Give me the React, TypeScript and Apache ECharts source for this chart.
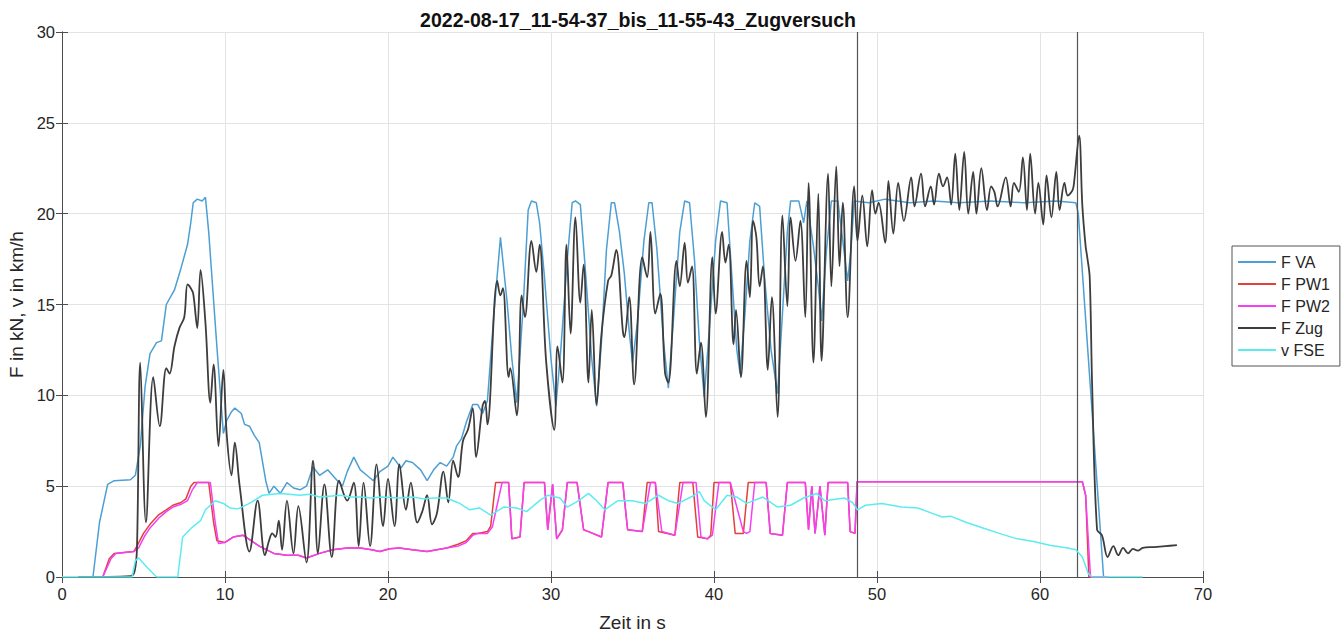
import React, { useEffect, useRef } from "react";
import * as echarts from "echarts";

const chartTitle = "2022-08-17_11-54-37_bis_11-55-43_Zugversuch";
const seriesNames = ["F VA", "F PW1", "F PW2", "F Zug", "v FSE"];
const xTicks = { min: 0, max: 70, interval: 10 };
const yTicks = { min: 0, max: 30, interval: 5 };
const markerTimes = [48.77, 62.3];

const fVA = [
  [1.0, 0], [1.9, 0], [2.3, 3.0], [2.8, 5.1], [3.2, 5.3], [4.2, 5.35], [4.5, 5.6], [4.8, 7.2], [5.1, 10.5], [5.4, 12.3],
  [5.8, 12.9], [6.1, 13.0], [6.4, 15.0], [6.9, 15.8], [7.3, 17.0], [7.7, 18.3], [7.9, 19.5], [8.05, 20.6], [8.3, 20.8],
  [8.6, 20.7], [8.8, 20.9], [9.0, 19.0], [9.5, 12.7], [9.9, 7.9], [10.1, 8.6], [10.4, 9.1], [10.6, 9.3], [11.0, 9.0],
  [11.2, 8.4], [11.5, 8.3], [11.8, 7.8], [12.1, 7.4], [12.5, 5.3], [12.7, 4.6], [13.0, 5.0], [13.4, 4.6], [13.8, 5.2],
  [14.2, 4.9], [14.6, 4.8], [15.0, 5.0], [15.4, 6.05], [15.8, 5.6], [16.3, 5.9], [16.8, 5.4], [17.2, 5.0], [17.5, 5.8],
  [17.9, 6.6], [18.3, 5.9], [18.7, 5.6], [19.1, 5.3], [19.5, 5.8], [20.0, 6.1], [20.3, 6.6], [20.8, 6.0], [21.1, 6.4],
  [21.5, 6.3], [22.0, 5.9], [22.4, 5.3], [22.8, 5.9], [23.2, 6.3], [23.6, 6.1], [24.0, 6.6], [24.2, 7.2], [24.5, 7.6],
  [24.8, 8.5], [25.0, 9.0], [25.2, 9.5], [25.5, 9.5], [25.8, 9.0], [26.1, 9.7], [26.5, 14.5], [26.9, 18.7], [27.3, 15.2],
  [27.6, 12.0], [27.9, 9.6], [28.3, 15.0], [28.6, 20.2], [28.8, 20.7], [29.1, 20.6], [29.3, 19.5], [29.6, 16.5],
  [30.0, 12.0], [30.3, 9.4], [30.6, 12.5], [31.0, 17.5], [31.3, 20.6], [31.5, 20.7], [31.8, 20.5], [32.1, 17.0],
  [32.5, 12.0], [32.8, 9.4], [33.1, 13.0], [33.4, 18.0], [33.7, 20.6], [33.9, 20.6], [34.2, 19.0], [34.5, 16.7],
  [34.8, 13.5], [35.0, 11.8], [35.3, 14.0], [35.7, 18.5], [36.0, 20.6], [36.2, 20.6], [36.5, 18.0], [36.9, 13.0],
  [37.2, 10.4], [37.5, 14.0], [37.9, 19.0], [38.2, 20.7], [38.5, 20.6], [38.8, 17.5], [39.1, 13.0], [39.4, 9.9],
  [39.7, 13.5], [40.1, 18.5], [40.4, 20.7], [40.8, 20.6], [41.1, 16.5], [41.4, 12.5], [41.6, 11.2], [41.9, 14.5],
  [42.2, 18.5], [42.5, 20.6], [42.8, 20.4], [43.1, 16.5], [43.5, 12.5], [43.9, 10.1], [44.2, 14.5], [44.5, 19.0],
  [44.7, 20.7], [45.2, 20.7], [45.5, 19.5], [45.7, 20.7], [46.1, 18.2], [46.4, 16.0], [46.6, 14.1], [46.9, 18.0],
  [47.2, 20.7], [47.6, 20.7], [47.9, 18.5], [48.2, 16.3], [48.4, 18.0], [48.6, 20.7], [49.5, 20.6], [50.5, 20.8],
  [52.0, 20.6], [53.5, 20.7], [55.0, 20.6], [57.0, 20.7], [59.0, 20.6], [61.0, 20.7], [62.2, 20.6], [62.35, 20.0],
  [63.9, 0], [64.2, 0],
];

const fPW1 = [
  [1.0, 0], [2.5, 0], [2.9, 1.0], [3.2, 1.3], [4.4, 1.4], [4.6, 1.7], [5.0, 2.4], [5.4, 2.9], [5.9, 3.4], [6.4, 3.7],
  [6.8, 3.95], [7.3, 4.1], [7.6, 4.3], [7.9, 5.0], [8.1, 5.2], [9.0, 5.2], [9.3, 3.0], [9.5, 2.0], [10.0, 1.9],
  [10.5, 2.2], [11.1, 2.3], [11.6, 2.0], [12.1, 1.7], [13.0, 1.3], [13.8, 1.2], [14.5, 1.2], [15.0, 1.05], [15.8, 1.3],
  [16.6, 1.5], [17.5, 1.6], [18.3, 1.6], [19.0, 1.5], [19.5, 1.4], [20.1, 1.55], [20.7, 1.6], [21.5, 1.5], [22.4, 1.4],
  [23.0, 1.5], [23.6, 1.6], [24.3, 1.8], [24.8, 2.0], [25.2, 2.4], [25.5, 2.4], [26.1, 2.5], [26.3, 2.8], [26.6, 5.2],
  [27.4, 5.2], [27.6, 2.1], [28.1, 2.2], [28.35, 5.2], [29.6, 5.2], [29.8, 2.6], [30.1, 5.1], [30.35, 2.1], [30.7, 2.6],
  [31.0, 5.2], [31.6, 5.2], [32.0, 2.6], [32.3, 2.5], [33.1, 2.2], [33.5, 5.2], [34.4, 5.2], [34.7, 2.6], [35.6, 2.5],
  [35.9, 5.2], [36.4, 5.2], [36.6, 2.5], [37.6, 2.3], [37.9, 5.2], [38.7, 5.2], [39.0, 2.2], [39.6, 2.1], [39.8, 2.3],
  [40.0, 5.2], [41.0, 5.2], [41.3, 2.4], [41.8, 2.4], [42.1, 5.2], [43.2, 5.2], [43.45, 2.4], [44.2, 2.3], [44.5, 5.2],
  [45.6, 5.2], [45.8, 2.6], [46.0, 5.0], [46.2, 2.4], [46.5, 5.0], [46.8, 2.3], [47.0, 5.2], [48.2, 5.2], [48.35, 2.5],
  [48.65, 2.4], [48.78, 5.25], [62.6, 5.25], [62.8, 4.5], [63.0, 0], [64.1, 0],
];

const fPW2 = [
  [1.0, 0], [2.5, 0], [3.0, 1.0], [3.3, 1.3], [4.4, 1.4], [4.7, 1.6], [5.1, 2.3], [5.4, 2.7], [6.0, 3.3], [6.4, 3.6],
  [6.8, 3.85], [7.3, 4.0], [7.7, 4.2], [8.0, 4.8], [8.3, 5.2], [9.1, 5.2], [9.4, 3.0], [9.6, 1.85], [10.0, 1.9],
  [10.5, 2.2], [11.1, 2.3], [11.6, 2.0], [12.1, 1.7], [13.0, 1.3], [13.8, 1.2], [14.5, 1.2], [15.0, 1.05], [15.8, 1.3],
  [16.6, 1.5], [17.5, 1.6], [18.3, 1.6], [19.0, 1.5], [19.5, 1.4], [20.1, 1.55], [20.7, 1.6], [21.5, 1.5], [22.4, 1.4],
  [23.0, 1.5], [23.6, 1.6], [24.3, 1.7], [24.8, 1.9], [25.2, 2.3], [25.5, 2.4], [26.1, 2.4], [26.4, 2.75], [27.0, 5.2],
  [27.4, 5.2], [27.6, 2.1], [28.1, 2.2], [28.35, 5.2], [29.6, 5.2], [29.8, 2.6], [30.1, 5.1], [30.35, 2.1], [30.7, 2.6],
  [31.0, 5.2], [31.6, 5.2], [32.0, 2.6], [32.3, 2.5], [33.1, 2.2], [33.5, 5.2], [34.4, 5.2], [34.7, 2.6], [35.6, 2.5],
  [36.1, 5.2], [36.4, 5.2], [36.8, 2.5], [37.6, 2.3], [38.1, 5.2], [38.9, 5.2], [39.2, 2.2], [39.6, 2.1], [39.9, 2.3],
  [40.3, 5.2], [41.0, 5.2], [41.8, 2.5], [42.0, 2.4], [42.2, 2.5], [42.5, 5.2], [43.2, 5.2], [43.45, 2.4], [44.2, 2.3],
  [44.5, 5.2], [45.6, 5.2], [45.8, 2.6], [46.0, 5.0], [46.2, 2.4], [46.5, 5.0], [46.8, 2.3], [47.0, 5.2], [48.2, 5.2],
  [48.35, 2.5], [48.65, 2.4], [48.78, 5.25], [62.6, 5.25], [62.8, 4.5], [63.1, 0], [64.1, 0],
];

const fZug = [
  [1.0, 0], [4.2, 0.05], [4.45, 0.3], [4.6, 1.6], [4.8, 11.8], [5.15, 3.0], [5.6, 11.0], [6.0, 8.3], [6.4, 11.5],
  [6.6, 11.2], [6.9, 12.7], [7.2, 13.7], [7.5, 14.3], [7.7, 16.1], [7.9, 15.9], [8.05, 15.6], [8.3, 13.7], [8.5, 16.9],
  [8.8, 14.0], [9.1, 9.6], [9.3, 11.7], [9.6, 7.2], [9.9, 11.4], [10.1, 7.9], [10.4, 5.6], [10.6, 7.4], [10.9, 5.0],
  [11.5, 1.4], [12.0, 4.2], [12.45, 1.2], [12.7, 2.0], [12.9, 2.4], [13.1, 2.2], [13.3, 3.1], [13.5, 1.5], [13.8, 4.2],
  [14.2, 1.3], [14.5, 3.9], [15.0, 0.8], [15.4, 6.4], [15.7, 1.3], [16.1, 5.1], [16.55, 1.1], [17.0, 5.3], [17.5, 4.2],
  [17.9, 5.2], [18.2, 1.7], [18.5, 5.2], [18.9, 1.7], [19.3, 6.2], [19.7, 2.8], [20.0, 5.4], [20.4, 2.8], [20.7, 6.2],
  [21.1, 3.7], [21.4, 5.2], [21.8, 3.0], [22.1, 3.6], [22.4, 4.5], [22.7, 2.9], [23.0, 3.5], [23.4, 5.8], [23.7, 4.1],
  [24.0, 6.4], [24.3, 5.5], [24.6, 7.5], [24.9, 8.1], [25.2, 9.3], [25.4, 6.6], [25.8, 9.4], [25.95, 9.7], [26.1, 8.4],
  [26.7, 16.3], [26.9, 15.5], [27.05, 15.9], [27.4, 11.0], [27.5, 11.5], [27.9, 8.9], [28.2, 15.5], [28.4, 14.3],
  [28.8, 18.5], [29.1, 16.8], [29.3, 18.3], [29.7, 11.9], [30.2, 8.1], [30.4, 12.7], [30.7, 10.7], [30.95, 18.3],
  [31.2, 13.4], [31.5, 19.8], [31.8, 15.1], [32.0, 17.2], [32.3, 10.7], [32.5, 14.7], [32.8, 9.5], [33.1, 13.4],
  [33.5, 16.3], [33.7, 16.6], [34.0, 18.0], [34.4, 13.6], [34.5, 13.2], [34.8, 15.4], [35.1, 10.6], [35.6, 17.6],
  [35.9, 16.5], [36.1, 19.0], [36.4, 14.5], [36.7, 15.6], [37.0, 11.2], [37.2, 10.7], [37.7, 17.4], [37.9, 16.0],
  [38.2, 18.4], [38.4, 16.2], [38.65, 17.1], [38.95, 11.2], [39.2, 12.9], [39.5, 8.8], [39.9, 17.6], [40.1, 14.5],
  [40.5, 19.0], [40.7, 17.3], [40.9, 18.3], [41.2, 12.8], [41.35, 14.7], [41.65, 11.0], [42.0, 17.4], [42.2, 15.4],
  [42.4, 19.6], [42.6, 18.7], [42.8, 16.0], [43.0, 17.1], [43.3, 11.4], [43.55, 15.4], [43.9, 8.8], [44.2, 19.9],
  [44.5, 14.9], [44.7, 19.8], [45.0, 17.4], [45.3, 19.6], [45.6, 14.3], [45.8, 21.7], [46.1, 11.8], [46.4, 21.1],
  [46.6, 11.9], [47.0, 22.2], [47.2, 16.0], [47.5, 22.6], [47.7, 17.1], [47.9, 20.6], [48.2, 14.3], [48.6, 21.5],
  [48.8, 18.5], [49.1, 21.0], [49.4, 18.2], [49.7, 21.3], [49.9, 20.0], [50.1, 20.6], [50.5, 18.4], [50.7, 21.8],
  [51.0, 18.9], [51.3, 21.7], [51.65, 19.6], [52.1, 22.0], [52.3, 20.4], [52.7, 22.2], [52.95, 20.4], [53.3, 21.5],
  [53.5, 20.5], [53.8, 22.2], [54.05, 21.5], [54.3, 22.0], [54.55, 20.5], [54.8, 23.3], [55.05, 20.2], [55.35, 23.4],
  [55.6, 20.0], [55.9, 22.3], [56.1, 20.0], [56.4, 22.5], [56.75, 20.2], [57.0, 21.5], [57.2, 21.2], [57.4, 20.4],
  [57.9, 22.0], [58.2, 20.4], [58.4, 21.7], [58.7, 21.2], [58.95, 23.1], [59.2, 20.2], [59.4, 23.3], [59.7, 20.0],
  [59.9, 21.7], [60.2, 19.4], [60.4, 22.1], [60.7, 19.8], [61.0, 22.3], [61.2, 20.2], [61.5, 21.7], [61.7, 21.0],
  [62.0, 21.3], [62.1, 21.8], [62.4, 24.3], [62.6, 20.4], [62.8, 18.2], [62.9, 17.6], [63.05, 16.5], [63.2, 10.5],
  [63.5, 2.6], [63.8, 2.3], [64.15, 1.1], [64.5, 1.7], [64.8, 1.2], [65.1, 1.6], [65.4, 1.3], [65.7, 1.55], [66.0, 1.45],
  [66.3, 1.6], [67.0, 1.65], [67.7, 1.7], [68.4, 1.75],
];

const vFSE = [
  [0, 0], [4.3, 0], [4.5, 0.9], [4.7, 1.05], [5.2, 0.55], [5.8, 0], [7.1, 0], [7.4, 2.2], [8.0, 2.75], [8.5, 3.1],
  [8.8, 3.7], [9.4, 4.2], [9.9, 4.05], [10.3, 3.8], [10.8, 3.75], [11.5, 4.05], [12.3, 4.5], [13.4, 4.6], [14.6, 4.5],
  [15.2, 4.55], [15.8, 4.4], [16.4, 4.45], [17.1, 4.5], [17.7, 4.4], [18.3, 4.4], [19.0, 4.35], [19.6, 4.4],
  [20.7, 4.35], [21.5, 4.4], [22.2, 4.3], [22.8, 4.35], [23.6, 4.35], [24.0, 4.2], [24.4, 4.05], [25.0, 3.7],
  [25.6, 3.8], [26.3, 3.4], [27.1, 3.85], [27.9, 3.8], [28.5, 3.6], [29.3, 4.2], [29.8, 4.5], [30.55, 4.35],
  [31.0, 3.85], [31.7, 4.2], [32.3, 4.6], [32.8, 4.2], [33.3, 3.7], [34.1, 4.2], [35.0, 4.2], [35.8, 4.05], [36.6, 4.5],
  [37.2, 4.2], [37.8, 4.05], [38.8, 4.5], [39.1, 4.7], [39.4, 4.2], [40.1, 3.7], [40.8, 4.5], [41.4, 4.4], [42.0, 4.05],
  [43.0, 4.4], [43.9, 3.85], [44.7, 3.95], [45.5, 4.35], [46.3, 4.6], [46.8, 4.2], [48.0, 4.35], [48.5, 4.1],
  [48.8, 3.7], [49.3, 3.95], [50.3, 4.05], [51.5, 3.85], [52.5, 3.8], [53.4, 3.5], [54.0, 3.3], [54.5, 3.35],
  [55.5, 3.0], [56.5, 2.7], [57.5, 2.4], [58.6, 2.1], [59.6, 1.95], [60.6, 1.75], [61.7, 1.6], [62.2, 1.5],
  [62.6, 1.1], [62.95, 0.2], [63.2, 0], [66.3, 0],
];

const seriesData = [fVA, fPW1, fPW2, fZug, vFSE];
const seriesColors = ["#4c9fd3", "#e2403c", "#f53ff5", "#3d3d3d", "#5cecf0"];
const seriesWidths = [1.5, 1.5, 1.5, 1.8, 1.5];
const seriesSmooth = [false, false, false, 0.35, false];

const FONT = "'Liberation Sans', Arial, Helvetica, sans-serif";
const TXT = "#262626";

export default function App() {
  const ref = useRef<HTMLDivElement>(null);
  useEffect(() => {
    if (!ref.current) return;
    const chart = echarts.init(ref.current, null, { renderer: "svg" });
    const axisLine = { show: true, lineStyle: { color: "#4d4d4d", width: 1 } };
    const tick = { show: true, inside: true, length: 6, lineStyle: { color: "#4d4d4d" } };
    const option: any = {
      animation: false,
      backgroundColor: "#ffffff",
      textStyle: { fontFamily: FONT },
      title: {
        text: chartTitle,
        left: 633,
        top: 5,
        textAlign: "center",
        textStyle: { fontFamily: FONT, fontSize: 19.5, fontWeight: "bold", color: "#111" },
      },
      grid: { left: 62, right: 141, top: 32, bottom: 55, containLabel: false, outerBoundsMode: "none" },
      legend: {
        orient: "vertical",
        left: 1232,
        top: 246,
        padding: [8, 10, 8, 6],
        itemWidth: 38,
        itemHeight: 2,
        itemGap: 6,
        icon: "rect",
        borderColor: "#555",
        borderWidth: 1,
        backgroundColor: "#fff",
        textStyle: { fontFamily: FONT, fontSize: 16, color: TXT },
        data: seriesNames,
      },
      xAxis: [
        {
          type: "value",
          min: xTicks.min,
          max: xTicks.max,
          interval: xTicks.interval,
          name: "Zeit in s",
          nameLocation: "middle",
          nameGap: 36,
          nameTextStyle: { fontFamily: FONT, fontSize: 19, color: TXT },
          axisLine,
          axisTick: tick,
          axisLabel: { fontFamily: FONT, fontSize: 16.5, color: TXT, margin: 8 },
          splitLine: { show: true, lineStyle: { color: "#e3e3e3", width: 1 } },
        },
        {
          type: "value",
          position: "top",
          min: xTicks.min,
          max: xTicks.max,
          interval: xTicks.interval,
          axisLine,
          axisTick: tick,
          axisLabel: { show: false },
          splitLine: { show: false },
        },
      ],
      yAxis: [
        {
          type: "value",
          min: yTicks.min,
          max: yTicks.max,
          interval: yTicks.interval,
          name: "F in kN, v in km/h",
          nameLocation: "middle",
          nameGap: 33,
          nameTextStyle: { fontFamily: FONT, fontSize: 19, color: TXT },
          axisLine,
          axisTick: tick,
          axisLabel: { fontFamily: FONT, fontSize: 16.5, color: TXT, margin: 7 },
          splitLine: { show: true, lineStyle: { color: "#e3e3e3", width: 1 } },
        },
        {
          type: "value",
          position: "right",
          min: yTicks.min,
          max: yTicks.max,
          interval: yTicks.interval,
          axisLine,
          axisTick: tick,
          axisLabel: { show: false },
          splitLine: { show: false },
        },
      ],
      series: seriesNames.map((name, i) => ({
        name,
        type: "line",
        xAxisIndex: 0,
        yAxisIndex: 0,
        data: seriesData[i],
        showSymbol: false,
        symbol: "none",
        smooth: seriesSmooth[i],
        color: seriesColors[i],
        lineStyle: { color: seriesColors[i], width: seriesWidths[i] },
        itemStyle: { color: seriesColors[i] },
        z: 2 + i,
        markLine:
          i === 3
            ? {
                silent: true,
                symbol: ["none", "none"],
                label: { show: false },
                lineStyle: { color: "#555555", width: 1.2, type: "solid" },
                data: markerTimes.map((t) => ({ xAxis: t })),
              }
            : undefined,
      })),
    };
    chart.setOption(option);
    return () => chart.dispose();
  }, []);
  return (
    <div
      ref={ref}
      style={{ position: "fixed", left: 0, top: 0, width: 1344, height: 632, background: "#fff" }}
    />
  );
}
